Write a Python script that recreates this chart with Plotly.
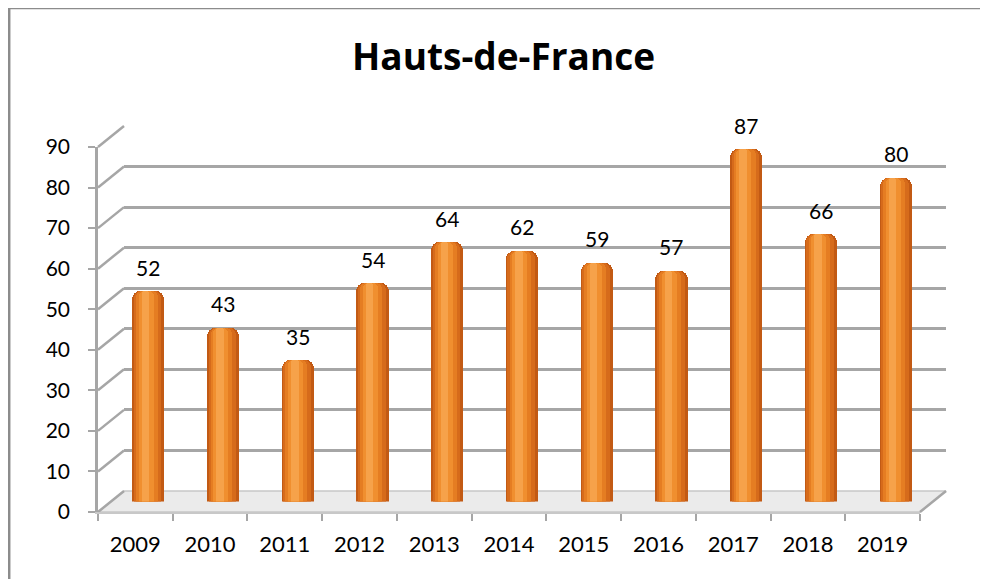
import plotly.graph_objects as go

# ---- data ----
years = ["2009", "2010", "2011", "2012", "2013", "2014", "2015", "2016", "2017", "2018", "2019"]
values = [52, 43, 35, 54, 64, 62, 59, 57, 87, 66, 80]
y_ticks = list(range(0, 100, 10))
title_text = "Hauts-de-France"

# ---- geometry (pixels of the target picture) ----
W, H = 988, 579
OFF = 8                   # page body margin offset
FX0, FX1 = 98, 920        # front plot area left/right
FYB, FYT = 512, 147       # front y of value 0 / value 90
DX, DY = 26, 21           # 3D depth offset
YMAX = 90


def px(x):
    return (x - OFF) / W


def py(y):
    return (H - (y - OFF)) / H


def yf(v, shift=0):
    return FYB - shift - (FYB - FYT) * v / YMAX


FONT = "Lato, Carlito, Calibri, sans-serif"
TITLE_FONT = "Open Sans, Lato, sans-serif"
GRID = "#a6a6a6"

fig = go.Figure()

# --- subplot 1: pixel overlay for floor + connectors ---
floor_x = [FX0, FX1, FX1 + DX, FX0 + DX, FX0]
floor_y = [FYB, FYB, FYB - DY, FYB - DY, FYB]
fig.add_trace(go.Scatter(x=floor_x, y=floor_y, mode="lines", fill="toself",
                         fillcolor="#ebebeb", line=dict(color="#c8c8c8", width=1.5),
                         hoverinfo="skip", showlegend=False, xaxis="x", yaxis="y"))
cx, cy = [], []
for v in y_ticks:
    cx += [FX0, FX0 + DX, None]
    cy += [yf(v), yf(v, DY), None]
cx += [FX1, FX1 + DX, None]
cy += [FYB, FYB - DY, None]
fig.add_trace(go.Scatter(x=cx, y=cy, mode="lines", line=dict(color=GRID, width=2.5),
                         hoverinfo="skip", showlegend=False, xaxis="x", yaxis="y"))

# --- subplot 2: back wall gridlines ---
fig.add_trace(go.Scatter(x=[0, 1], y=[0, YMAX], mode="markers", marker=dict(opacity=0),
                         hoverinfo="skip", showlegend=False, xaxis="x2", yaxis="y2"))

# --- subplot 3: front axes with labels ---
fig.add_trace(go.Scatter(x=years, y=[0] * len(years), mode="markers", marker=dict(opacity=0),
                         hoverinfo="skip", showlegend=False, xaxis="x3", yaxis="y3"))

# --- subplot 4: cylinders (mid depth) ---
BW = 0.43
layers = [
    (BW, -BW / 2, "#c25a14", 9),
    (0.37, -0.195, "#d66b1b", 8),
    (0.29, -0.165, "#e57d22", 7),
    (0.20, -0.13, "#f08f2f", 6),
    (0.10, -0.09, "#f6a24a", 4),
]
for w, off, col, cr in layers:
    fig.add_trace(go.Bar(x=years, y=values, width=w, offset=off,
                         marker=dict(color=col, line=dict(width=0), cornerradius=cr),
                         hoverinfo="skip", showlegend=False, xaxis="x4", yaxis="y4"))

annotations = []
for i, v in enumerate(values):
    annotations.append(dict(x=i, y=v, xref="x4", yref="y4", text=str(v), showarrow=False,
                            xanchor="center", yanchor="bottom", yshift=9,
                            font=dict(family=FONT, size=21, color="#000")))
annotations.append(dict(x=px(504), y=py(56), xref="paper", yref="paper", text="<b>%s</b>" % title_text,
                        showarrow=False, xanchor="center", yanchor="middle",
                        font=dict(family=TITLE_FONT, size=37, color="#000")))

shapes = [
    dict(type="line", xref="paper", yref="paper", x0=px(8), x1=1, y0=py(8), y1=py(8),
         line=dict(color="#8c8c8c", width=2.5)),
    dict(type="line", xref="paper", yref="paper", x0=px(9.2), x1=px(9.2), y0=py(8), y1=0,
         line=dict(color="#8c8c8c", width=2.5)),
]

hidden = dict(visible=False, showgrid=False, zeroline=False, automargin=False)
fig.update_layout(
    template="none",
    width=W, height=H, autosize=False,
    margin=dict(l=0, r=0, t=0, b=0, pad=0, autoexpand=False),
    showlegend=False,
    paper_bgcolor="white", plot_bgcolor="rgba(0,0,0,0)",
    barmode="overlay", bargap=0,
    annotations=annotations, shapes=shapes,
    xaxis=dict(domain=[0, 1], range=[OFF, W + OFF], fixedrange=True, **hidden),
    yaxis=dict(domain=[0, 1], range=[H + OFF, OFF], fixedrange=True, **hidden),
    xaxis2=dict(domain=[px(FX0 + DX), px(FX1 + DX)], range=[0, 1], anchor="y2",
                showgrid=False, zeroline=False, showticklabels=False, ticks="",
                showline=False, automargin=False),
    yaxis2=dict(domain=[py(FYB - DY), py(FYT - DY)], range=[-0.05, YMAX + 0.05], anchor="x2",
                tickvals=y_ticks, showgrid=True, gridcolor=GRID, gridwidth=2.5,
                zeroline=False, showticklabels=False, ticks="", showline=False, automargin=False),
    xaxis3=dict(domain=[px(FX0), px(FX1)], anchor="y3", type="category",
                categoryorder="array", categoryarray=years, range=[-0.5, len(years) - 0.5],
                showline=True, linecolor="#c8c8c8", linewidth=1.5,
                ticks="outside", tickson="boundaries", ticklen=7, tickwidth=2, tickcolor=GRID,
                ticklabelstandoff=12, showgrid=False, zeroline=False, automargin=False,
                tickfont=dict(family=FONT, size=22, color="#000")),
    yaxis3=dict(domain=[py(FYB), py(FYT)], anchor="x3", range=[0, YMAX], tickvals=y_ticks,
                showline=True, linecolor=GRID, linewidth=2.5,
                ticks="outside", ticklen=7, tickwidth=2, tickcolor=GRID,
                ticklabelstandoff=14, showgrid=False, zeroline=False, automargin=False,
                tickfont=dict(family=FONT, size=21, color="#000")),
    xaxis4=dict(domain=[px(FX0 + DX / 2), px(FX1 + DX / 2)], anchor="y4", type="category",
                categoryorder="array", categoryarray=years, range=[-0.5, len(years) - 0.5],
                **hidden),
    yaxis4=dict(domain=[py(FYB - DY / 2), py(FYT - DY / 2)], anchor="x4", range=[0, YMAX],
                **hidden),
)

fig.write_html("out.html")
